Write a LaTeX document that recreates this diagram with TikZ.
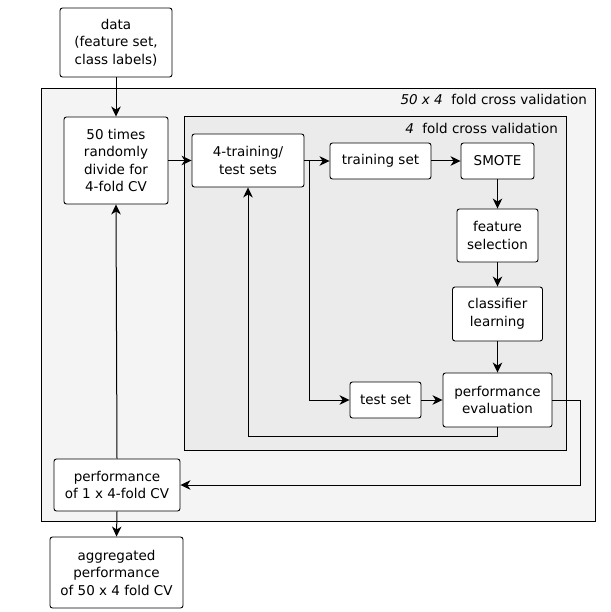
\documentclass[tikz,border=0pt]{standalone}
\usepackage{fontspec}
\setmainfont{DejaVu Sans}
\usetikzlibrary{arrows.meta}
\definecolor{outerfill}{HTML}{F4F4F4}
\definecolor{innerfill}{HTML}{EBEBEB}
\begin{document}
\begin{tikzpicture}[x=1pt,y=-1pt,
  box/.style={draw, rounded corners=2.5pt, fill=white, align=center, inner sep=0pt, line width=0.9pt, font=\fontsize{13.5}{17.5}\selectfont},
  arr/.style={-{Stealth[length=10pt,width=9.5pt,inset=3pt]}, line width=1pt},
  lbl/.style={font=\fontsize{13.5}{17.5}\selectfont, inner sep=0pt, anchor=east}]
\useasboundingbox (0,0) rectangle (610,612);
% frames
\draw[line width=0.9pt, fill=outerfill] (41,88) rectangle (595,521);
\draw[line width=0.9pt, fill=innerfill] (184,116) rectangle (566,450);
\node[lbl] (outerlbl) at (587,99) {\textit{50 x 4}\ \ fold cross validation};
\node[lbl] (innerlbl) at (558,128) {\textit{4}\ \ fold cross validation};
% nodes
\node[box, minimum width=112pt, minimum height=69pt] (data) at (116,42.5) {data\\(feature set,\\class labels)};
\node[box, minimum width=104pt, minimum height=87pt] (divide) at (116,160.5) {50 times\\randomly\\divide for\\4-fold CV};
\node[box, minimum width=112pt, minimum height=53pt] (sets) at (248,160.5) {4-training/\\test sets};
\node[box, minimum width=101pt, minimum height=36pt] (trainset) at (380.5,161) {training set};
\node[box, minimum width=73pt, minimum height=36pt] (smote) at (497.5,161) {SMOTE};
\node[box, minimum width=81pt, minimum height=53pt] (fsel) at (497.5,235.5) {feature\\selection};
\node[box, minimum width=90pt, minimum height=54pt] (clf) at (497.5,314) {classifier\\learning};
\node[box, minimum width=109pt, minimum height=54pt] (perf) at (497.5,400) {performance\\evaluation};
\node[box, minimum width=71pt, minimum height=36pt] (testset) at (385.5,400) {test set};
\node[box, minimum width=126pt, minimum height=52pt] (p14) at (117,485) {performance\\of 1 x 4-fold CV};
\node[box, minimum width=133pt, minimum height=71pt] (agg) at (116.5,572.5) {aggregated\\performance\\of 50 x 4 fold CV};
% connectors
\coordinate (br) at (309,161);
\draw[arr] (data.south) -- (divide.north);
\draw[arr] (divide.east) -- (sets.west);
\draw[arr] (sets.east |- trainset.west) -- (trainset.west);
\draw[arr] (br) |- (testset.west);
\draw[arr] (trainset.east) -- (smote.west);
\draw[arr] (smote.south) -- (fsel.north);
\draw[arr] (fsel.south) -- (clf.north);
\draw[arr] (clf.south) -- (perf.north);
\draw[arr] (testset.east) -- (perf.west);
\draw[arr] (perf.south) -- ++(0,9) -| (sets.south);
\draw[arr] (perf.east) -- ++(28,0) |- (p14.east);
\draw[arr] (p14.north) -- (divide.south);
\draw[arr] (p14.south) -- (agg.north);
\end{tikzpicture}
\end{document}
